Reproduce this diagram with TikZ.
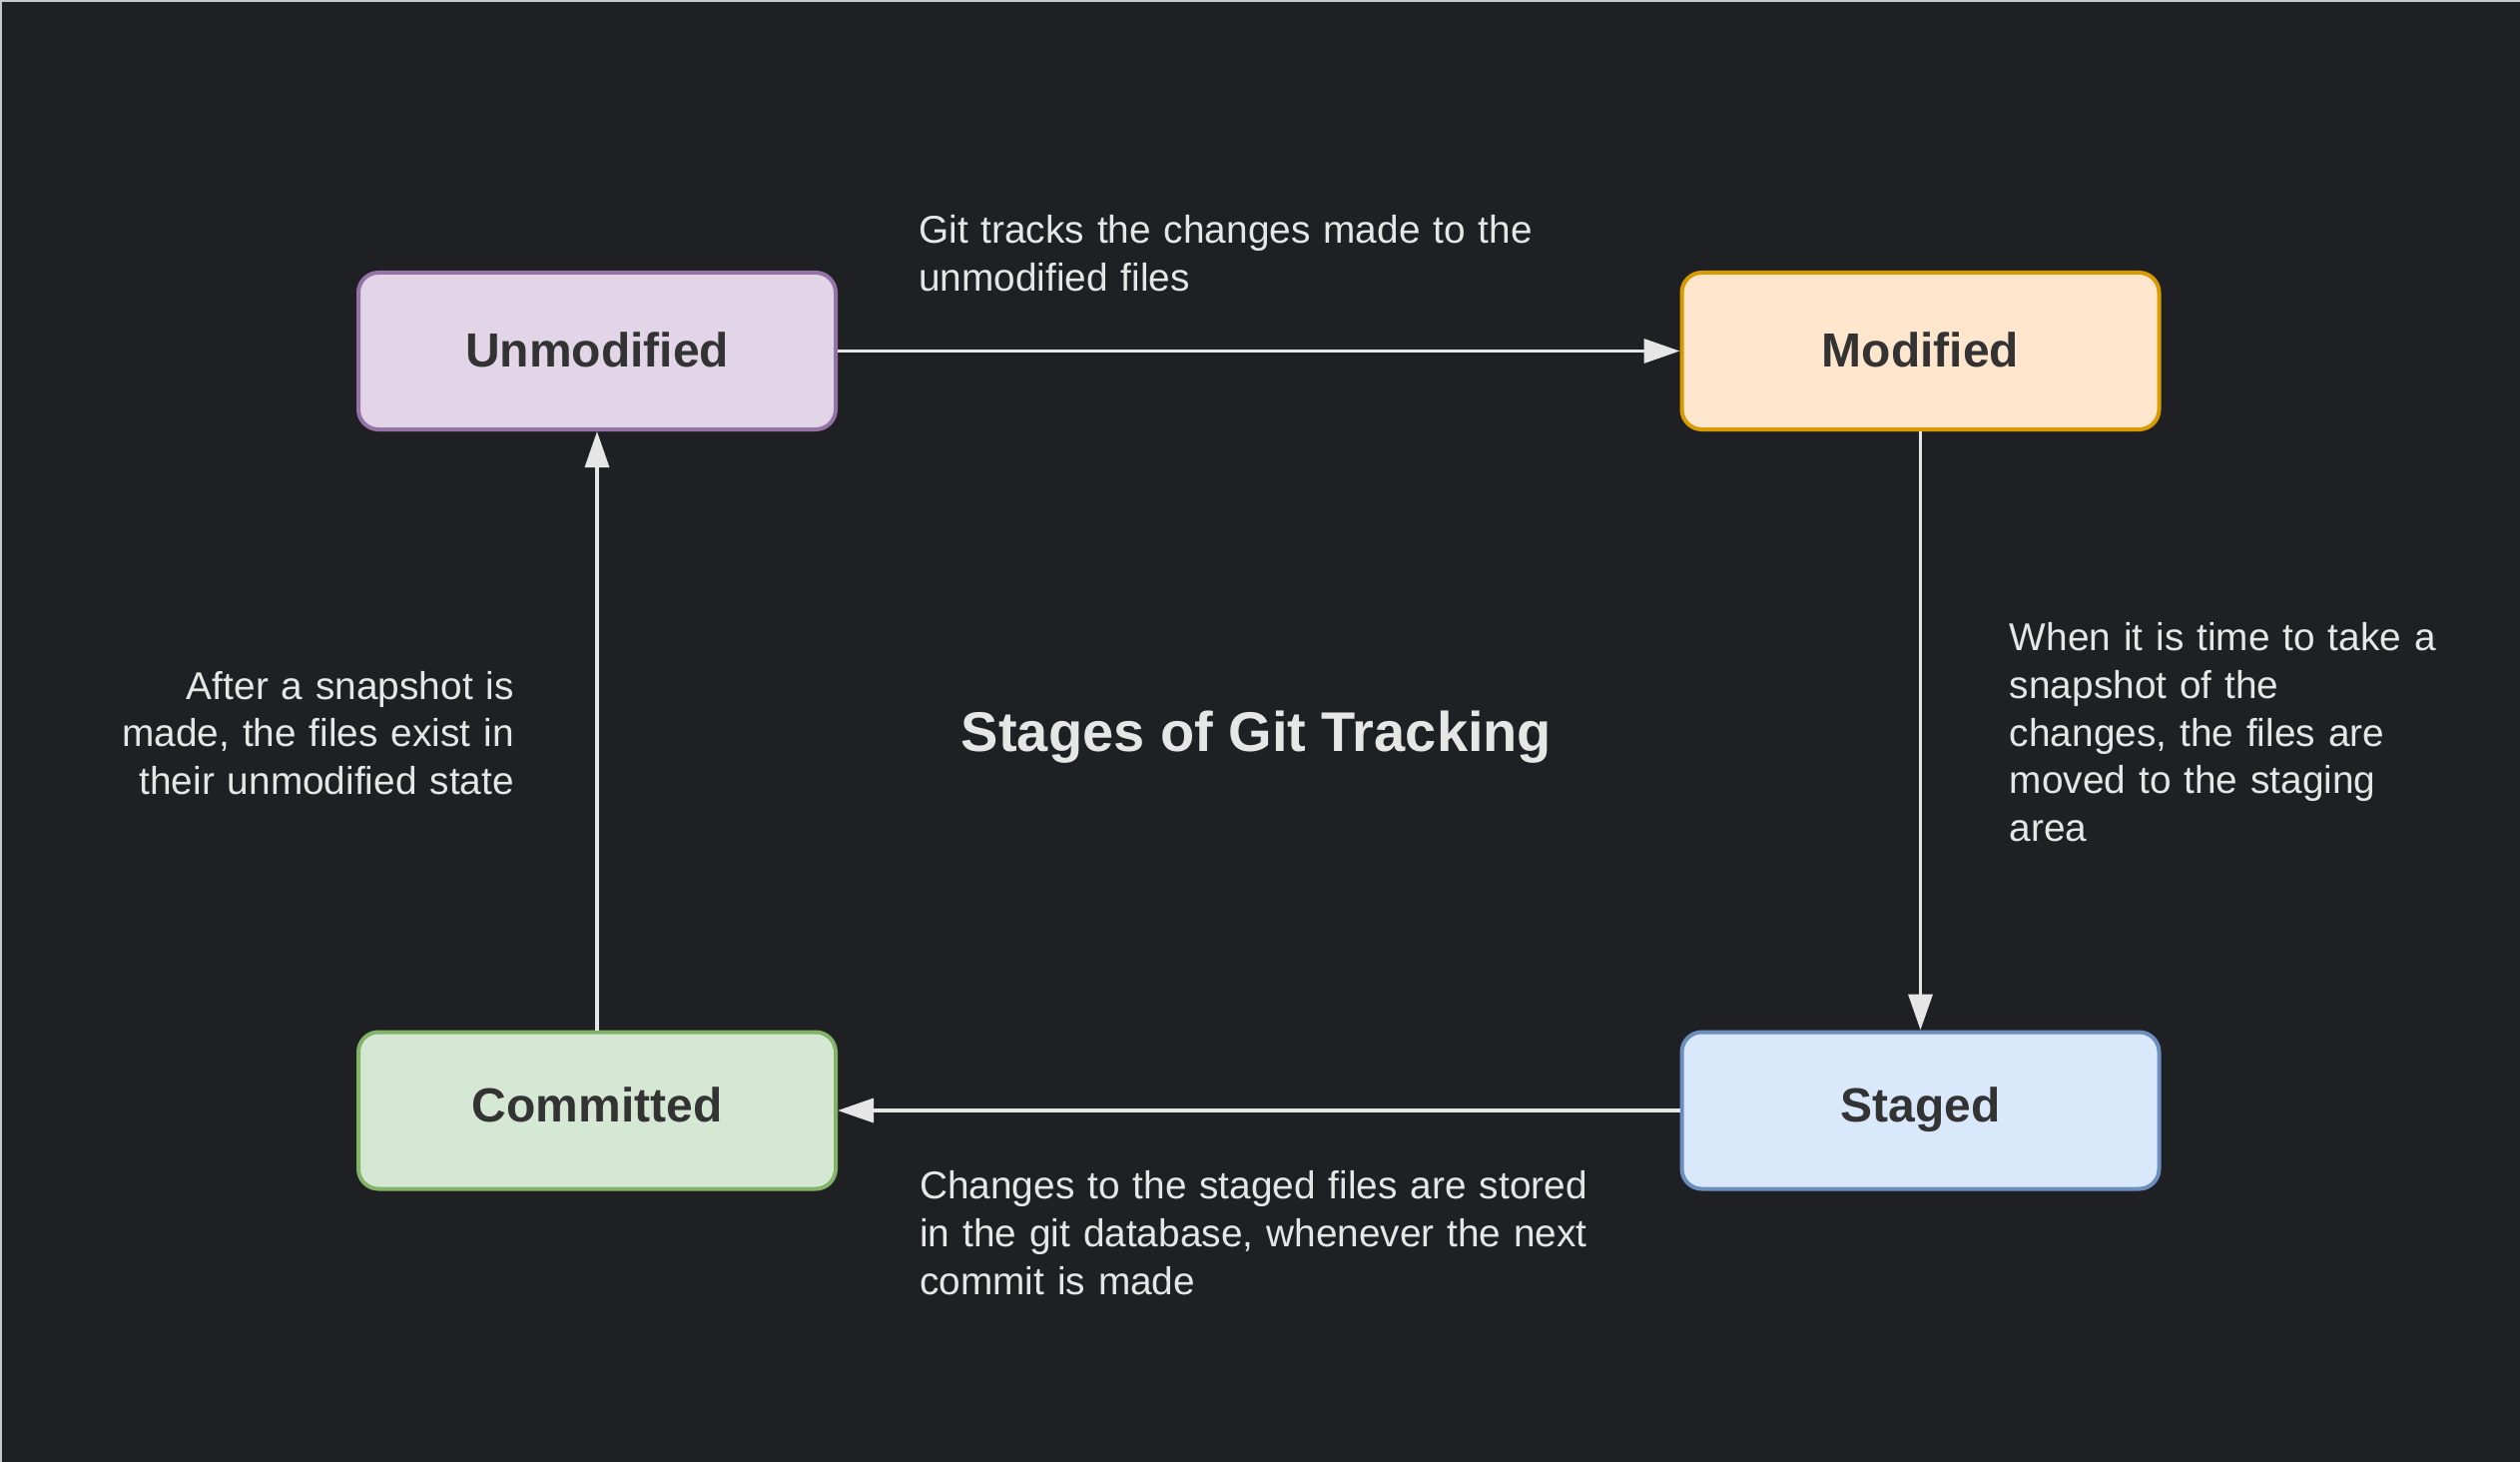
\documentclass[tikz,border=0pt]{standalone}
\usepackage{fontspec}
\setmainfont{Liberation Sans}
\usetikzlibrary{arrows.meta}
\definecolor{bg}{HTML}{1F2023}
\definecolor{fg}{HTML}{E6E6E6}
\definecolor{ink}{HTML}{333333}
\definecolor{framecol}{HTML}{C8C8C8}
\definecolor{purpfill}{HTML}{E1D5E7}
\definecolor{purpline}{HTML}{9673A6}
\definecolor{orfill}{HTML}{FFE6CC}
\definecolor{orline}{HTML}{D79B00}
\definecolor{bluefill}{HTML}{DAE8FC}
\definecolor{blueline}{HTML}{6C8EBF}
\definecolor{grfill}{HTML}{D5E8D4}
\definecolor{grline}{HTML}{82B366}
\begin{document}
\begin{tikzpicture}[x=1bp,y=-1bp,
  state/.style={rectangle, rounded corners=20bp, line width=4bp,
    minimum width=478bp, minimum height=157bp, inner sep=0pt,
    font=\fontsize{48bp}{57bp}\selectfont\bfseries, text=ink,
    text height=35bp, text depth=3bp},
  lowstate/.style={state, text depth=12bp},
  note/.style={inner sep=0pt, text=fg, font=\fontsize{38.8bp}{47.7bp}\selectfont},
  flow/.style={draw=fg, line width=3.5bp, -{Triangle[length=36bp,width=24bp]}}]
\fill[bg] (0,0) rectangle (2524,1464);
\useasboundingbox (0,0) rectangle (2524,1464);
\draw[framecol, line width=2bp] (1,1464) -- (1,1) -- (2524,1);

\node[state, fill=purpfill, draw=purpline] (unmod) at (598,351.5) {Unmodified};
\node[state, fill=orfill, draw=orline] (mod) at (1923.5,351.5) {Modified};
\node[lowstate, fill=bluefill, draw=blueline] (staged) at (1923.5,1112) {Staged};
\node[lowstate, fill=grfill, draw=grline] (commit) at (598,1112) {Committed};

\draw[flow] (unmod.east) -- (mod.west);
\draw[flow] (mod.south) -- (staged.north);
\draw[flow] (staged.west) -- (commit.east);
\draw[flow] (commit.north) -- (unmod.south);

\node[note, anchor=base west, text width=700bp, align=left] (ntop) at (920,243.3)
  {Git tracks the changes made to the\\unmodified files};
\node[note, anchor=base west, text width=480bp, align=left] (nright) at (2012.7,651.7)
  {When it is time to take a\\snapshot of the\\changes, the files are\\moved to the staging\\area};
\node[note, anchor=base east, text width=450bp, align=right] (nleft) at (515,700)
  {After a snapshot is\\made, the files exist in\\their unmodified state};
\node[note, anchor=base west, text width=720bp, align=left] (nbottom) at (921,1200.7)
  {Changes to the staged files are stored\\in the git database, whenever the next\\commit is made};

\node[inner sep=0pt, text=fg, font=\fontsize{56bp}{67bp}\selectfont\bfseries, anchor=base] (title) at (1258.5,752.7)
  {Stages of Git Tracking};
\end{tikzpicture}
\end{document}
